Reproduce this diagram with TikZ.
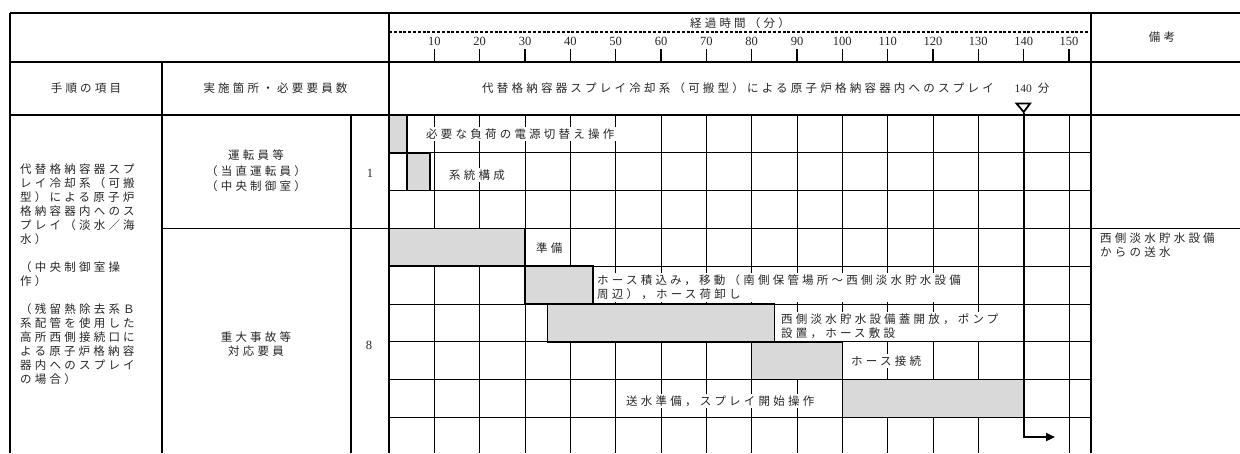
\documentclass[tikz,border=0pt]{standalone}
\usepackage{fontspec}
\setmainfont{Liberation Serif}
\newfontfamily\jp[LetterSpace=28]{Noto Sans CJK JP}
\usetikzlibrary{arrows.meta}
\definecolor{barg}{HTML}{D9D9D9}
\definecolor{ink}{HTML}{262626}
\newcommand\tx[1]{389+4.5333*(#1)}
\begin{document}
\begin{tikzpicture}[x=1pt,y=-1pt,
 jt/.style={font=\jp\fontsize{11.5}{14}\selectfont, inner sep=0pt, align=left, text=ink},
 lbl/.style={jt, anchor=west, fill=white, inner xsep=2pt, inner ysep=2pt},
 num/.style={font=\rmfamily\fontsize{12.5}{14}\selectfont, inner sep=0pt, text=ink},
 bar/.style={draw=black, line width=1.5pt, fill=barg},
 gridl/.style={line width=0.9pt},
 frame/.style={line width=1.8pt},
 tick/.style={line width=1.6pt}]
\useasboundingbox (0,0) rectangle (1240,453);
\fill[white] (0,0) rectangle (1240,453);

% chart grid
\foreach \t in {10,20,...,130,150} \draw[gridl] ({\tx{\t}},115) -- ({\tx{\t}},453);
\foreach \y in {152.8,190.6,266.2,304,341.8,379.6,417.4} \draw[gridl] (389,\y) -- (1091,\y);

% bars
\draw[bar] (389,115) rectangle ({\tx{4}},152.8);
\draw[bar] ({\tx{4}},152.8) rectangle ({\tx{9}},190.6);
\draw[bar] (389,228.4) rectangle ({\tx{30}},266.2);
\draw[bar] ({\tx{30}},266.2) rectangle ({\tx{45}},304);
\draw[bar] ({\tx{35}},304) rectangle ({\tx{85}},341.8);
\draw[bar] ({\tx{80}},341.8) rectangle ({\tx{100}},379.6);
\draw[bar] ({\tx{100}},379.6) rectangle ({\tx{140}},417.4);

% bar labels
\node[lbl] (t1) at (424,134) {必要な負荷の電源切替え操作};
\node[lbl] (t2) at (447,175) {系統構成};
\node[lbl] (t4) at (534,248) {準備};
\node[lbl] (t5) at (595,287.5) {ホース積込み，移動（南側保管場所～西側淡水貯水設備\\周辺），ホース荷卸し};
\node[lbl] (t6) at (779,326.5) {西側淡水貯水設備蓋開放，ポンプ\\設置，ホース敷設};
\node[lbl] (t7) at (849,361) {ホース接続};
\node[lbl] (t8) at (624,401) {送水準備，スプレイ開始操作};

% frame
\draw[frame] (10,13) -- (1240,13);
\draw[frame] (10,62) -- (1240,62);
\draw[frame] (10,115) -- (1240,115);
\draw[frame] (162,228.4) -- (1240,228.4);
\draw[frame] (10,13) -- (10,453);
\draw[frame] (162,62) -- (162,453);
\draw[frame] (351,115) -- (351,453);
\draw[frame] (389,13) -- (389,453);
\draw[frame] (1091,13) -- (1091,453);

% time scale
\draw[line width=1.2pt, dash pattern=on 3pt off 1.8pt] (389,32) -- (1091,32);
\foreach \t in {10,20,...,150} {
  \draw[tick] ({\tx{\t}},49) -- ({\tx{\t}},60.5);
  \node[num] (n\t) at ({\tx{\t}},41.5) {\t};
}
\node[jt] (h1) at (740,23) {経過時間（分）};
\node[jt] (h2) at (1162,37) {備考};
\node[jt] (h3) at (86,88) {手順の項目};
\node[jt] (h4) at (275.5,88) {実施箇所・必要要員数};
\node[jt] (h5) at (738,88) {代替格納容器スプレイ冷却系（可搬型）による原子炉格納容器内へのスプレイ};
\node[jt] (h6) at (1032,88) {{\rmfamily 140} 分};

% left columns
\node[jt, anchor=north west] (left) at (20,164) {代替格納容器スプ\\レイ冷却系（可搬\\型）による原子炉\\格納容器内へのス\\プレイ（淡水／海\\水）\\[14pt]（中央制御室操\\作）\\[14pt]（残留熱除去系Ｂ\\系配管を使用した\\高所西側接続口に\\よる原子炉格納容\\器内へのスプレイ\\の場合）};
\node[jt, align=center] (op) at (256,171) {運転員等\\[2pt]（当直運転員）\\[1pt]（中央制御室）};
\node[num] (c1) at (370,173) {1};
\node[jt, align=center] (sa) at (256,344) {重大事故等\\対応要員};
\node[num] (c2) at (369,345) {8};
\node[jt, anchor=north west] (rem) at (1100,233) {西側淡水貯水設備\\からの送水};

% 140 min marker
\draw[line width=1.8pt, fill=white, line join=miter] (1016.5,103.5) -- (1030.1,103.5) -- ({\tx{140}},112) -- cycle;
\coordinate (m0) at ({\tx{140}},112.5);
\coordinate (m1) at (1055,437);
\draw[line width=2.2pt, -{Triangle[length=9pt,width=8pt]}] (m0) |- (m1);
\end{tikzpicture}
\end{document}
